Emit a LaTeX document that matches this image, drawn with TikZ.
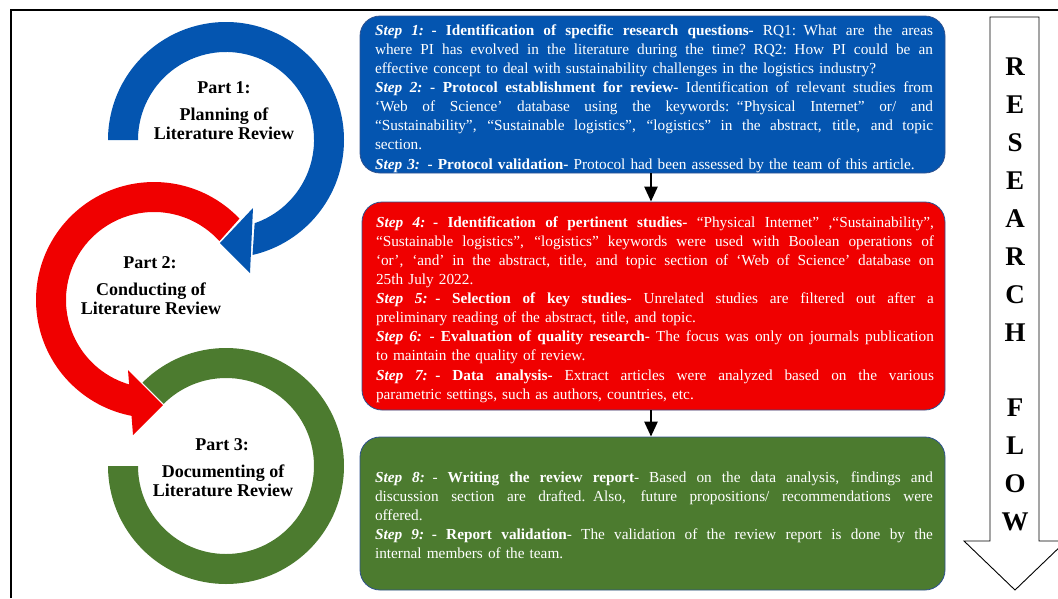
\documentclass[tikz,border=0pt]{standalone}
\usepackage{fontspec}
\setmainfont{Liberation Serif}
\usetikzlibrary{arrows.meta}
\definecolor{pblue}{RGB}{4,85,176}
\definecolor{pred}{RGB}{240,0,0}
\definecolor{pgreen}{RGB}{76,123,47}
\definecolor{pedge}{RGB}{47,82,143}
\newcommand{\JL}[1]{\noindent\hbox to 558pt{\spaceskip=0.25em plus 3em minus 0.08em\relax #1}}
\newcommand{\stp}[1]{\textbf{\textit{#1}}}
\tikzset{
  boxshape/.style={rounded corners=20pt, draw=pedge, line width=0.8pt, minimum width=585pt},
  steptext/.style={text width=558pt, align=left, text=white, font=\fontsize{15.3}{19.1}\selectfont, inner sep=0pt},
  conn/.style={line width=2.6pt, -{Triangle[length=15pt,width=13pt]}},
  parthead/.style={font=\fontsize{18}{19}\selectfont\bfseries, align=center},
  parttext/.style={font=\fontsize{18}{19.2}\selectfont\bfseries, align=center},
}
\begin{document}
\begin{tikzpicture}[x=1pt,y=-1pt]
\useasboundingbox (0,0) rectangle (1058,598);
\clip (0,0) rectangle (1058,598);
% frame
\draw[line width=1.6pt] (11,598) -- (11,10) -- (1060,10);

% Part 3 (green ring)
\begin{scope}[shift={(226,466)},y=1pt]
\fill[pgreen] (135:118) arc[start angle=135,end angle=-180,radius=118]
  -- (-180:88) arc[start angle=-180,end angle=135,radius=88] -- cycle;
\end{scope}
% Part 2 (red arrow)
\begin{scope}[shift={(154,300)},y=1pt]
\fill[pred] (43.6:118) arc[start angle=43.6,end angle=260,radius=118]
  -- (254:88) arc[start angle=254,end angle=42,radius=88] -- cycle;
\end{scope}
\fill[pred] (128,370) -- (133,435) -- (163,405) -- cycle;
% Part 1 (blue arrow)
\begin{scope}[shift={(226,140)},y=1pt]
\fill[pblue] (180:118) arc[start angle=180,end angle=-77,radius=118]
  -- (-71:88) arc[start angle=-71,end angle=180,radius=88] -- cycle;
\end{scope}
\fill[pblue] (253,208) -- (250,273) -- (220,243) -- cycle;

% part labels
\node[parthead] (p1) at (224,88) {Part 1:};
\node[parttext] (p1t) at (224,123.5) {Planning of\\Literature Review};
\node[parthead] (p2) at (150,263) {Part 2:};
\node[parttext] (p2t) at (151,298.5) {Conducting of\\Literature Review};
\node[parthead] (p3) at (222,445) {Part 3:};
\node[parttext] (p3t) at (223,480.5) {Documenting of\\Literature Review};

% step boxes
\node[boxshape, fill=pblue, minimum height=157pt] (b1) at (652.5,94.5) {};
\node[boxshape, fill=pred, minimum height=208pt, minimum width=583pt] (b2) at (653.5,306) {};
\node[boxshape, fill=pgreen, minimum height=153pt] (b3) at (652.5,513.5) {};

\node[steptext] (t1) at (654,98.5) {%
\JL{\stp{Step 1:} \textbf{- Identification of specific research questions-} RQ1: What are the areas}\\
\JL{where PI has evolved in the literature during the time? RQ2: How PI could be an}\\
effective concept to deal with sustainability challenges in the logistics industry?\\
\JL{\stp{Step 2:} \textbf{- Protocol establishment for review-} Identification of relevant studies from}\\
\JL{‘Web of Science’ database using the keywords: “Physical Internet” or/ and}\\
\JL{“Sustainability”, “Sustainable logistics”, “logistics” in the abstract, title, and topic}\\
section.\\
\stp{Step 3:} \textbf{- Protocol validation-} Protocol had been assessed by the team of this article.};

\node[steptext] (t2) at (655,309.5) {%
\JL{\stp{Step 4:} \textbf{- Identification of pertinent studies-} “Physical Internet” ,“Sustainability”,}\\
\JL{“Sustainable logistics”, “logistics” keywords were used with Boolean operations of}\\
\JL{‘or’, ‘and’ in the abstract, title, and topic section of ‘Web of Science’ database on}\\
25th July 2022.\\
\JL{\stp{Step 5:} \textbf{- Selection of key studies-} Unrelated studies are filtered out after a}\\
preliminary reading of the abstract, title, and topic.\\
\JL{\stp{Step 6:} \textbf{- Evaluation of quality research-} The focus was only on journals publication}\\
to maintain the quality of review.\\
\JL{\stp{Step 7:} \textbf{- Data analysis-} Extract articles were analyzed based on the various}\\
parametric settings, such as authors, countries, etc.};

\node[steptext] (t3) at (654,515.5) {%
\JL{\stp{Step 8:} - \textbf{Writing the review report}- Based on the data analysis, findings and}\\
\JL{discussion section are drafted. Also, future propositions/ recommendations were}\\
offered.\\
\JL{\stp{Step 9:} \textbf{- Report validation}- The validation of the review report is done by the}\\
internal members of the team.};

\draw[conn] (b1.south -| 651,0) -- (b2.north -| 651,0);
\draw[conn] (b2.south -| 651,0) -- (b3.north -| 651,0);

% research flow arrow
\draw[line width=0.9pt, fill=white] (990,17) -- (1039,17) -- (1039,541) -- (1066,541)
  -- (1015,590) -- (964,541) -- (990,541) -- cycle;
\node[font=\fontsize{27}{37.9}\selectfont\bfseries, align=center, inner sep=0pt] (rf) at (1015,294.5)
  {R\\E\\S\\E\\A\\R\\C\\H\\\mbox{}\\F\\L\\O\\W};
\end{tikzpicture}
\end{document}
